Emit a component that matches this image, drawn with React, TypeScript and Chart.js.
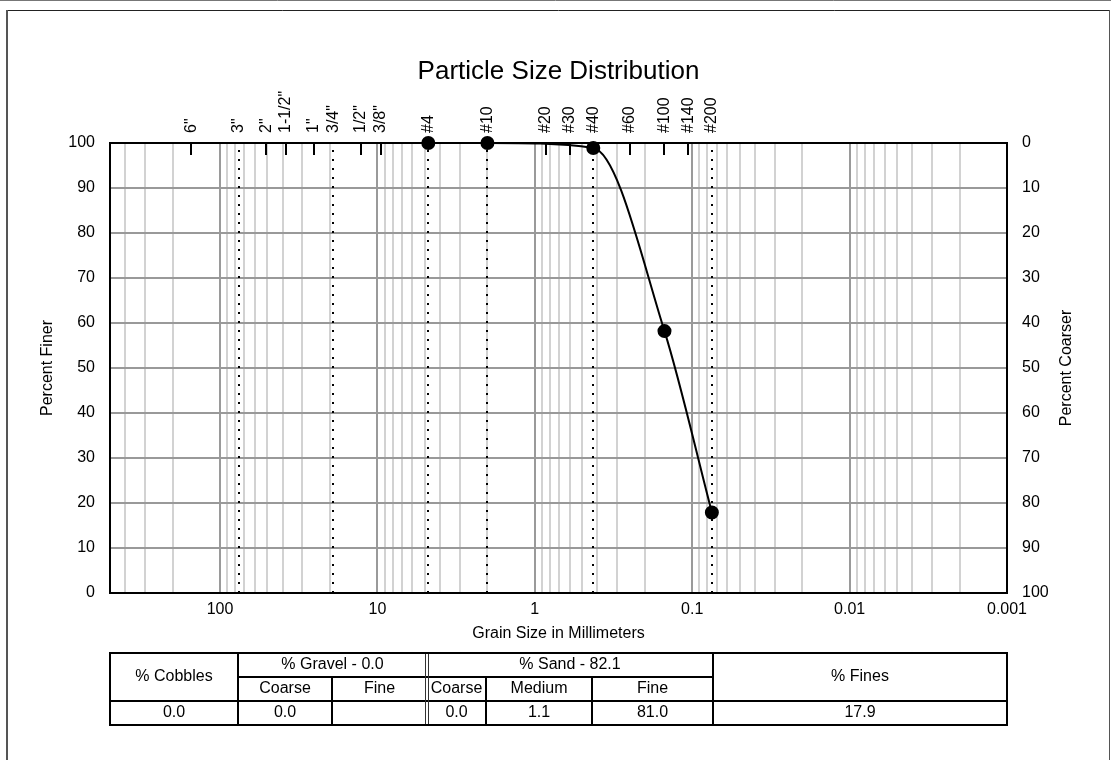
import React, { useEffect, useRef } from 'react';
import { Chart, registerables } from 'chart.js';

Chart.register(...registerables);

// ---- data ----
const grainSizes = [4.75, 2.0, 0.425, 0.15, 0.075];
const percentFiner = [100, 100, 98.9, 58.2, 17.9];

const sieveLabels = ['6"', '3"', '2"', '1-1/2"', '1"', '3/4"', '1/2"', '3/8"', '#4', '#10', '#20', '#30', '#40', '#60', '#100', '#140', '#200'];
const sieveSizes = [152.4, 76.2, 50.8, 38.1, 25.4, 19.05, 12.7, 9.525, 4.75, 2.0, 0.85, 0.6, 0.425, 0.25, 0.15, 0.106, 0.075];
const dottedSieveSizes = [76.2, 19.05, 4.75, 2.0, 0.425, 0.075];

const xTickValues = [100, 10, 1, 0.1, 0.01, 0.001];
const xTickLabels = ['100', '10', '1', '0.1', '0.01', '0.001'];
const xMin = 0.001;
const xMax = 500;

const yTickValues = [0, 10, 20, 30, 40, 50, 60, 70, 80, 90, 100];

const titleText = 'Particle Size Distribution';
const xTitle = 'Grain Size in Millimeters';
const yLeftTitle = 'Percent Finer';
const yRightTitle = 'Percent Coarser';

// gradation table
const cobblesPct = '0.0';
const gravelTotal = '0.0';
const gravelCoarse = '0.0';
const gravelFine = '';
const sandTotal = '82.1';
const sandCoarse = '0.0';
const sandMedium = '1.1';
const sandFine = '81.0';
const finesPct = '17.9';
const subHeaders = ['Coarse', 'Fine', 'Coarse', 'Medium', 'Fine'];

const FONT = 'Arial, "Liberation Sans", sans-serif';
const FS = 16;

// gridline positions for the log axis (1..9 x each decade)
const gridValues: number[] = [];
[0.001, 0.01, 0.1, 1, 10, 100].forEach((d) => {
  for (let m = 1; m <= 9; m++) {
    const v = +(m * d).toPrecision(6);
    if (v >= xMin && v <= xMax) gridValues.push(v);
  }
});
const isDecade = (v: number) => Math.abs(Math.log10(v) - Math.round(Math.log10(v))) < 1e-6;

const overlay = {
  id: 'overlay',
  beforeDatasetsDraw(chart: any) {
    const { ctx, chartArea: a, scales } = chart;
    const xs = scales.x;
    ctx.save();
    // dotted sieve lines
    ctx.strokeStyle = '#000';
    ctx.lineWidth = 2;
    ctx.setLineDash([2, 7]);
    dottedSieveSizes.forEach((v) => {
      const px = Math.round(xs.getPixelForValue(v));
      ctx.beginPath();
      ctx.moveTo(px, a.top + 7);
      ctx.lineTo(px, a.bottom);
      ctx.stroke();
    });
    ctx.setLineDash([]);
    // top tick marks
    sieveSizes.forEach((v) => {
      if (dottedSieveSizes.includes(v)) return;
      const px = Math.round(xs.getPixelForValue(v));
      ctx.beginPath();
      ctx.moveTo(px, a.top);
      ctx.lineTo(px, a.top + 12);
      ctx.stroke();
    });
    // plot border
    ctx.lineWidth = 2;
    ctx.strokeRect(a.left, a.top, a.right - a.left, a.bottom - a.top);
    ctx.restore();
  },
  afterDraw(chart: any) {
    const { ctx, chartArea: a, scales } = chart;
    const xs = scales.x;
    const cx = (a.left + a.right) / 2;
    ctx.save();
    // outer frame
    ctx.strokeStyle = '#777';
    ctx.lineWidth = 1;
    ctx.beginPath();
    ctx.moveTo(0, 0.5);
    ctx.lineTo(1111, 0.5);
    ctx.stroke();
    ctx.strokeStyle = '#222';
    ctx.beginPath();
    ctx.moveTo(7, 10.5);
    ctx.lineTo(1110, 10.5);
    ctx.stroke();
    ctx.strokeStyle = '#555';
    ctx.lineWidth = 2;
    ctx.beginPath();
    ctx.moveTo(7, 10);
    ctx.lineTo(7, 760);
    ctx.stroke();
    ctx.lineWidth = 1;
    ctx.beginPath();
    ctx.moveTo(1109.5, 10);
    ctx.lineTo(1109.5, 760);
    ctx.stroke();

    ctx.fillStyle = '#000';
    // title
    ctx.font = `26px ${FONT}`;
    ctx.textAlign = 'center';
    ctx.textBaseline = 'alphabetic';
    ctx.fillText(titleText, cx, 79);

    // x title
    ctx.font = `${FS}px ${FONT}`;
    ctx.textBaseline = 'middle';
    ctx.fillText(xTitle, cx, 634);

    // y titles
    const cy = (a.top + a.bottom) / 2;
    ctx.save();
    ctx.translate(48, cy);
    ctx.rotate(-Math.PI / 2);
    ctx.fillText(yLeftTitle, 0, 0);
    ctx.restore();
    ctx.save();
    ctx.translate(1067, cy);
    ctx.rotate(-Math.PI / 2);
    ctx.fillText(yRightTitle, 0, 0);
    ctx.restore();

    // sieve labels
    ctx.textAlign = 'left';
    sieveSizes.forEach((v, i) => {
      const px = xs.getPixelForValue(v);
      ctx.save();
      ctx.translate(px, a.top - 10);
      ctx.rotate(-Math.PI / 2);
      ctx.fillText(sieveLabels[i], 0, 0);
      ctx.restore();
    });

    // gradation table
    const cols = [110, 238, 332, 427, 486, 592, 713, 1007];
    const rows = [653, 677, 701, 725];
    ctx.strokeStyle = '#000';
    ctx.lineWidth = 2;
    const line = (x1: number, y1: number, x2: number, y2: number) => {
      ctx.beginPath();
      ctx.moveTo(x1, y1);
      ctx.lineTo(x2, y2);
      ctx.stroke();
    };
    line(cols[1], rows[1], cols[6], rows[1]);
    line(cols[0], rows[2], cols[7], rows[2]);
    line(cols[1], rows[0], cols[1], rows[3]);
    line(cols[6], rows[0], cols[6], rows[3]);
    line(cols[2], rows[1], cols[2], rows[3]);
    line(cols[4], rows[1], cols[4], rows[3]);
    line(cols[5], rows[1], cols[5], rows[3]);
    ctx.lineWidth = 1;
    ctx.strokeStyle = '#333';
    line(cols[3] - 1.5, rows[0], cols[3] - 1.5, rows[3]);
    line(cols[3] + 1.5, rows[0], cols[3] + 1.5, rows[3]);
    ctx.strokeStyle = '#000';
    ctx.lineWidth = 2;
    ctx.strokeRect(cols[0], rows[0], cols[7] - cols[0], rows[3] - rows[0]);

    ctx.font = `${FS}px ${FONT}`;
    ctx.textAlign = 'center';
    ctx.textBaseline = 'middle';
    const mid = (i: number, j: number) => (cols[i] + cols[j]) / 2;
    const r1 = (rows[0] + rows[1]) / 2;
    const r2 = (rows[1] + rows[2]) / 2;
    const r3 = (rows[2] + rows[3]) / 2;
    ctx.fillText('% Cobbles', mid(0, 1), r2 - 12);
    ctx.fillText(`% Gravel - ${gravelTotal}`, mid(1, 3), r1);
    ctx.fillText(`% Sand - ${sandTotal}`, mid(3, 6), r1);
    ctx.fillText('% Fines', mid(6, 7), r2 - 12);
    subHeaders.forEach((h, i) => {
      ctx.fillText(h, mid(i + 1, i + 2), r2);
    });
    const vals = [cobblesPct, gravelCoarse, gravelFine, sandCoarse, sandMedium, sandFine, finesPct];
    vals.forEach((v, i) => ctx.fillText(v, mid(i, i + 1), r3));
    ctx.restore();
  },
};

export default function App() {
  const ref = useRef<HTMLCanvasElement>(null);
  useEffect(() => {
    if (!ref.current) return;
    Chart.defaults.font.family = FONT;
    Chart.defaults.font.size = FS;
    Chart.defaults.color = '#000';
    const chart = new Chart(ref.current, {
      type: 'line',
      data: {
        datasets: [
          {
            data: grainSizes.map((g, i) => ({ x: g, y: percentFiner[i] })),
            borderColor: '#000',
            backgroundColor: '#000',
            borderWidth: 2,
            pointRadius: 6,
            pointBackgroundColor: '#000',
            pointBorderColor: '#000',
            cubicInterpolationMode: 'monotone',
            clip: false,
            fill: false,
          } as any,
        ],
      },
      options: {
        responsive: false,
        animation: false,
        events: [],
        layout: { padding: { top: 143, left: 0, right: 0, bottom: 0 } },
        plugins: { legend: { display: false }, tooltip: { enabled: false }, title: { display: false } },
        scales: {
          x: {
            type: 'logarithmic',
            position: 'bottom',
            reverse: true,
            min: xMin,
            max: xMax,
            afterBuildTicks: (scale: any) => {
              scale.ticks = gridValues.map((v) => ({ value: v, major: isDecade(v) }));
            },
            afterFit: (scale: any) => {
              scale.height = 167;
            },
            grid: {
              drawTicks: false,
              color: (c: any) => (c.tick && isDecade(c.tick.value) ? '#9a9a9a' : '#d2d2d2'),
              lineWidth: 2,
            },
            border: { display: false },
            ticks: {
              autoSkip: false,
              maxRotation: 0,
              minRotation: 0,
              padding: 7,
              callback: (val: any) => {
                const i = xTickValues.findIndex((v) => Math.abs(Math.log10(v) - Math.log10(Number(val))) < 1e-6);
                return i >= 0 ? xTickLabels[i] : '';
              },
            },
          },
          y: {
            type: 'linear',
            position: 'left',
            min: 0,
            max: 100,
            afterBuildTicks: (scale: any) => {
              scale.ticks = yTickValues.map((v) => ({ value: v }));
            },
            afterFit: (scale: any) => {
              scale.width = 110;
            },
            grid: { drawTicks: false, color: '#999', lineWidth: 2 },
            border: { display: false },
            ticks: { padding: 15 },
          },
          yRight: {
            type: 'linear',
            position: 'right',
            min: 0,
            max: 100,
            reverse: true,
            afterBuildTicks: (scale: any) => {
              scale.ticks = yTickValues.map((v) => ({ value: v }));
            },
            afterFit: (scale: any) => {
              scale.width = 104;
            },
            grid: { display: false, drawTicks: false },
            border: { display: false },
            ticks: { padding: 15 },
          },
        },
      } as any,
      plugins: [overlay],
    });
    return () => chart.destroy();
  }, []);
  return (
    <div style={{ position: 'fixed', left: 0, top: 0, width: 1111, height: 760, background: '#fff' }}>
      <canvas ref={ref} width={1111} height={760} style={{ display: 'block', width: 1111, height: 760 }} />
    </div>
  );
}
